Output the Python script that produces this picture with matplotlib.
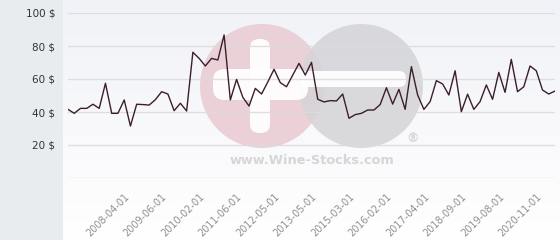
import numpy as np
import matplotlib
matplotlib.use("Agg")
import matplotlib.pyplot as plt
from matplotlib.patches import Circle, FancyBboxPatch
from matplotlib.transforms import Affine2D

# prix mensuels (en $)
prices = [41.6, 39.2, 42.2, 42.2, 44.7, 42.2, 57.4, 39.2, 39.2, 47.3,
          31.5, 44.7, 44.5, 44.2, 47.5, 52.3, 50.9, 40.8, 45.3, 40.6,
          76.2, 72.5, 67.9, 72.5, 71.5, 86.7, 47.3, 59.8, 48.9, 43.6,
          54.3, 50.9, 58.2, 65.9, 57.8, 55.3, 62.4, 69.5, 62.4, 70.1,
          47.7, 46.1, 46.9, 46.7, 50.9, 36.2, 38.4, 39.2, 41.2, 41.2,
          44.5, 54.7, 44.8, 53.7, 41.6, 67.5, 50.3, 41.6, 46.3, 59.0,
          57.0, 50.3, 65.0, 40.2, 50.8, 41.6, 46.3, 56.4, 47.7, 64.0,
          51.9, 71.9, 52.3, 55.3, 67.9, 65.0, 53.3, 50.9, 52.7]

tick_idx = [9, 15, 21, 27, 33, 39, 45, 51, 57, 63, 69, 75]
tick_labels = ['2008-04-01', '2009-06-01', '2010-02-01', '2011-06-01',
               '2012-05-01', '2013-05-01', '2015-03-01', '2016-02-01',
               '2017-04-01', '2018-09-01', '2019-08-01', '2020-11-01']
y_ticks = [20, 40, 60, 80, 100]

W, H = 560, 240
fig = plt.figure(figsize=(W / 100, H / 100), dpi=100)
fig.patch.set_facecolor('#e8ecef')

# fond en dégradé
bg = fig.add_axes([63 / W, 0, 1 - 63 / W, 1])
grad = np.linspace(0, 1, 256).reshape(-1, 1)
cmap = matplotlib.colors.LinearSegmentedColormap.from_list('g', ['#f1f2f7', '#ffffff'])
bg.imshow(grad, aspect='auto', cmap=cmap, extent=[0, 1, 0, 1], origin='upper')
bg.set_axis_off()

ax = fig.add_axes([68 / W, 1 - 178 / H, (555 - 68) / W, (178 - 13) / H])
ax.patch.set_alpha(0)
x = np.arange(len(prices))
ax.set_xlim(0, len(prices) - 1)
ax.set_ylim(0, 100)

for v in [0] + y_ticks:
    ax.axhline(v, color='#dcdcdc', lw=1, alpha=0.9, zorder=2.5)

# filigrane (pixels)
px = Affine2D().scale(1 / W, -1 / H).translate(0, 1) + fig.transFigure
wm = dict(transform=px, zorder=2, lw=0)
ax.add_patch(Circle((262, 86), 62, fc='#e8c8cf', alpha=0.8, **wm))
ax.add_patch(Circle((361, 86), 62, fc='#d4d4d7', alpha=0.85, **wm))
ax.add_patch(FancyBboxPatch((250, 39), 20, 94, boxstyle='round,pad=0,rounding_size=9',
                            fc='#ffffff', alpha=0.92, **wm))
ax.add_patch(FancyBboxPatch((213, 69), 95, 31, boxstyle='round,pad=0,rounding_size=12',
                            fc='#ffffff', alpha=0.92, **wm))
ax.add_patch(FancyBboxPatch((300, 71), 106, 16, boxstyle='round,pad=0,rounding_size=7',
                            fc='#ffffff', alpha=0.92, **wm))
ax.text(312, 161, 'www.Wine-Stocks.com', transform=px, ha='center', va='center',
        fontsize=9.3, fontweight='bold', color='#d6d6d6', zorder=2)
ax.text(413, 139, '®', transform=px, ha='center', va='center',
        fontsize=9, fontweight='bold', color='#d6d6d6', zorder=2)

ax.plot(x, prices, color='#3b1e2b', lw=1, zorder=3)

for s in ax.spines.values():
    s.set_visible(False)
ax.set_yticks(y_ticks)
ax.set_yticklabels([f'{v} $' for v in y_ticks], fontsize=7.5, color='#333333')
ax.tick_params(axis='y', length=0, pad=9)
ax.set_xticks(tick_idx)
ax.set_xticklabels(tick_labels, rotation=45, ha='right', va='top',
                   rotation_mode='anchor', fontsize=7, color='#909090')
ax.tick_params(axis='x', length=0, pad=10)

fig.savefig('out.png', dpi=100, facecolor=fig.get_facecolor())
